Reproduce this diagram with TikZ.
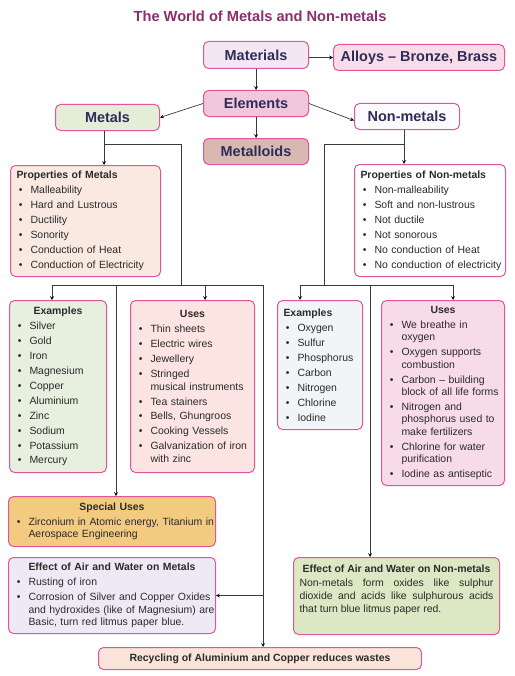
\documentclass[tikz,border=0pt]{standalone}
\usepackage{fontspec}
\setmainfont{Liberation Sans}
\usepackage{enumitem}

\definecolor{titlepurple}{HTML}{8B2E6E}
\definecolor{rim}{HTML}{E2559A}
\definecolor{ink}{HTML}{2B2B2B}
\definecolor{navy}{HTML}{2E2C58}
\definecolor{wire}{HTML}{3A3A3A}
\definecolor{materialsfill}{HTML}{F4E6F2}
\definecolor{alloysfill}{HTML}{F8DCEA}
\definecolor{elementsfill}{HTML}{F2C7DE}
\definecolor{metalsfill}{HTML}{E4EDD6}
\definecolor{nonmetalsfill}{HTML}{FBFBFE}
\definecolor{metalloidsfill}{HTML}{D8B9B2}
\definecolor{propmetalsfill}{HTML}{F9E9E1}
\definecolor{propnonfill}{HTML}{FFFFFF}
\definecolor{exmetalsfill}{HTML}{E7EFDF}
\definecolor{usesmetalsfill}{HTML}{FBE4E1}
\definecolor{exnonfill}{HTML}{F1F5F8}
\definecolor{usesnonfill}{HTML}{F8DBE8}
\definecolor{specialfill}{HTML}{F2CB80}
\definecolor{effmetalsfill}{HTML}{EEEAF5}
\definecolor{effnonfill}{HTML}{DCE7C4}
\definecolor{recyclefill}{HTML}{FAE3D8}

\newlist{bulletlist}{itemize}{1}
\setlist[bulletlist]{label=\textbullet, leftmargin=14bp, rightmargin=-9bp, labelwidth=4bp,
  labelsep=8bp, itemsep=2.5bp, topsep=2.5bp, parsep=0pt, partopsep=0pt}
\newcommand{\boxhead}[1]{\textbf{#1}\par}
\newcommand{\midhead}[1]{{\centering\textbf{#1}\par}}
\setlength{\parindent}{0pt}
\hbadness=10000
\hfuzz=20pt

\begin{document}
\begin{tikzpicture}[x=1bp, y=-1bp,
    box/.style={draw=rim, line width=1bp, rounded corners=5bp, anchor=north west,
      inner xsep=6bp, inner ysep=4bp, align=left, text=ink,
      font=\fontsize{10.5}{12.5}\selectfont},
    tag/.style={draw=rim, line width=1bp, rounded corners=5bp, anchor=north west,
      inner sep=2bp, align=center, text=navy,
      font=\fontsize{14.5}{16}\selectfont\bfseries},
    wire/.style={draw=wire, line width=0.7bp}]
  \useasboundingbox (0,0) rectangle (515,676);

  \node[text=titlepurple, font=\fontsize{14.7}{17}\selectfont\bfseries] (title) at (260,16)
    {The World of Metals and Non-metals};

  % top row of small boxes
  \node[tag, fill=materialsfill, minimum width=105bp, minimum height=27bp] (materials) at (203,41) {Materials};
  \node[tag, fill=alloysfill, minimum width=171bp, minimum height=26bp] (alloys) at (333,44) {Alloys -- Bronze, Brass};
  \node[tag, fill=elementsfill, minimum width=105bp, minimum height=26bp] (elements) at (203,90) {Elements};
  \node[tag, fill=metalsfill, minimum width=104bp, minimum height=26bp] (metals) at (55,104) {Metals};
  \node[tag, fill=nonmetalsfill, minimum width=105bp, minimum height=26bp] (nonmetals) at (354,103) {Non-metals};
  \node[tag, fill=metalloidsfill, minimum width=105bp, minimum height=26bp] (metalloids) at (203,138) {Metalloids};

  % properties
  \node[box, fill=propmetalsfill, text width=138bp, minimum height=111bp] (propmetals) at (10,165) {%
    \boxhead{Properties of Metals}
    \begin{bulletlist}
      \item Malleability
      \item Hard and Lustrous
      \item Ductility
      \item Sonority
      \item Conduction of Heat
      \item Conduction of Electricity
    \end{bulletlist}};
  \node[box, fill=propnonfill, text width=139bp, minimum height=112bp] (propnon) at (354,164) {%
    \boxhead{Properties of Non-metals}
    \begin{bulletlist}
      \item Non-malleability
      \item Soft and non-lustrous
      \item Not ductile
      \item Not sonorous
      \item No conduction of Heat
      \item No conduction of electricity
    \end{bulletlist}};

  % examples and uses
  \node[box, fill=exmetalsfill, text width=85bp, minimum height=172bp] (exmetals) at (9,300) {%
    \midhead{Examples}
    \begin{bulletlist}
      \item Silver
      \item Gold
      \item Iron
      \item Magnesium
      \item Copper
      \item Aluminium
      \item Zinc
      \item Sodium
      \item Potassium
      \item Mercury
    \end{bulletlist}};
  \node[box, fill=usesmetalsfill, text width=112bp, minimum height=172bp] (usesmetals) at (130,300) {%
    \midhead{Uses}
    \begin{bulletlist}
      \item Thin sheets
      \item Electric wires
      \item Jewellery
      \item Stringed\\ musical instruments
      \item Tea stainers
      \item Bells, Ghungroos
      \item Cooking Vessels
      \item Galvanization of iron\\ with zinc
    \end{bulletlist}};
  \node[box, fill=exnonfill, text width=73bp, minimum height=129bp] (exnon) at (277,300) {%
    \boxhead{Examples}
    \begin{bulletlist}
      \item Oxygen
      \item Sulfur
      \item Phosphorus
      \item Carbon
      \item Nitrogen
      \item Chlorine
      \item Iodine
    \end{bulletlist}};
  \node[box, fill=usesnonfill, text width=111bp, minimum height=185bp] (usesnon) at (381,300) {%
    \midhead{Uses}
    \begin{bulletlist}
      \item We breathe in\\ oxygen
      \item Oxygen supports\\ combustion
      \item Carbon -- building\\ block of all life forms
      \item Nitrogen and\\ phosphorus used to\\ make fertilizers
      \item Chlorine for water\\ purification
      \item Iodine as antiseptic
    \end{bulletlist}};

  % lower boxes
  \node[box, fill=specialfill, text width=195bp, minimum height=50bp] (special) at (8,496) {%
    \midhead{Special Uses}
    \begin{bulletlist}
      \item Zirconium in Atomic energy, Titanium in\\ Aerospace Engineering
    \end{bulletlist}};
  \node[box, fill=effmetalsfill, text width=195bp, minimum height=76bp] (effmetals) at (8,557) {%
    \midhead{Effect of Air and Water on Metals}
    \begin{bulletlist}
      \item Rusting of iron
      \item Corrosion of Silver and Copper Oxides\\ and hydroxides (like of Magnesium) are\\ Basic, turn red litmus paper blue.
    \end{bulletlist}};
  \node[box, fill=effnonfill, text width=194bp, minimum height=77bp, align=justify,
    font=\fontsize{10.5}{13}\selectfont] (effnon) at (293,557) {%
    \midhead{Effect of Air and Water on Non-metals}
    \vspace{1.5bp}
    Non-metals form oxides like sulphur\linebreak
    dioxide and acids like sulphurous acids\linebreak
    that turn blue litmus paper red.\par
    \vspace{12bp}};
  \node[box, fill=recyclefill, minimum width=323bp, minimum height=22bp, align=center,
    font=\fontsize{10.5}{12.5}\selectfont\bfseries] (recycle) at (98,647)
    {Recycling of Aluminium and Copper reduces wastes};

  % junctions of the two trees
  \coordinate (mfork) at (104,144);
  \coordinate (mdrop) at (181,285);
  \coordinate (mbusL) at (52,285);
  \coordinate (mspec) at (116,285);
  \coordinate (muses) at (205,285);
  \coordinate (mbusR) at (263,285);
  \coordinate (nfork) at (404,144);
  \coordinate (ndrop) at (324,285);
  \coordinate (nbusL) at (300,285);
  \coordinate (neff) at (370,285);
  \coordinate (nbusR) at (453,285);

  \draw[wire]
    (materials.east |- alloys) edge[-stealth] (alloys.west)
    (materials) edge[-stealth] (elements)
    (elements.west) edge[-stealth] (metals.east)
    (elements.east) edge[-stealth] ([yshift=-4bp]nonmetals.west)
    (elements) edge[-stealth] (metalloids);

  \draw[wire]
    (metals.south -| mfork) edge[-stealth] (propmetals.north -| mfork)
    (mfork) -| (mdrop)
    (mbusL) -- (mbusR)
    (mbusL) edge[-stealth] (exmetals.north -| mbusL)
    (muses) edge[-stealth] (usesmetals.north -| muses)
    (mspec) edge[-stealth] (special.north -| mspec)
    (mbusR) edge[-stealth] (recycle.north -| mbusR)
    (effmetals.east -| mbusR) edge[-stealth] (effmetals.east);

  \draw[wire]
    (nonmetals.south -| nfork) edge[-stealth] (propnon.north -| nfork)
    (nfork) -| (ndrop)
    (nbusL) -- (nbusR)
    (nbusL) edge[-stealth] (exnon.north -| nbusL)
    (nbusR) edge[-stealth] (usesnon.north -| nbusR)
    (neff) edge[-stealth] (effnon.north -| neff);
\end{tikzpicture}
\end{document}
